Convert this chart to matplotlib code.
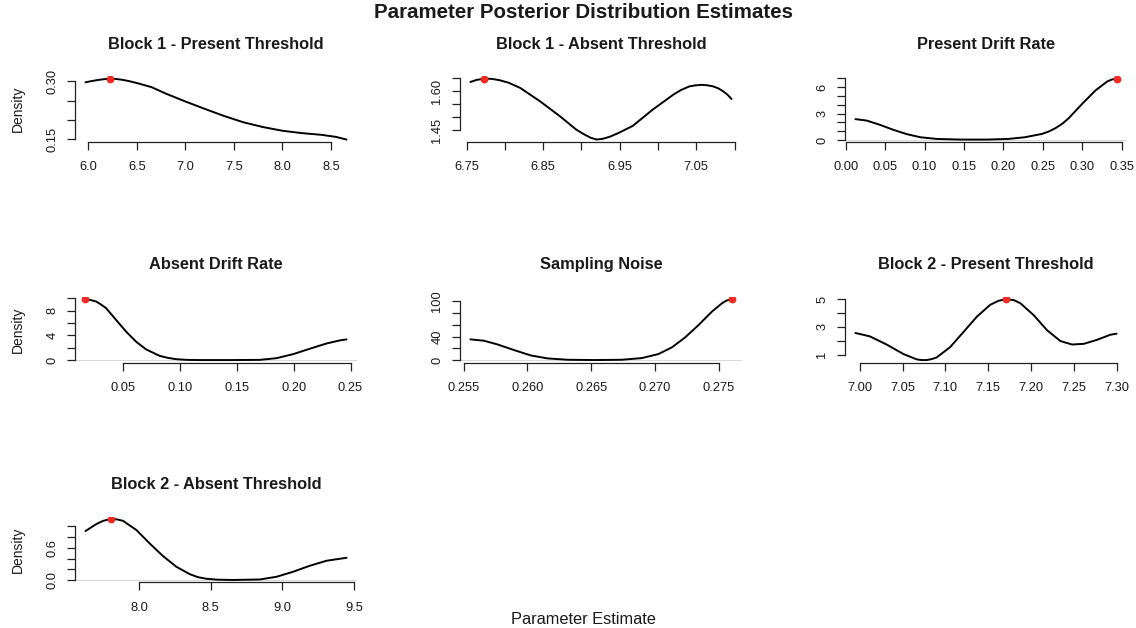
import matplotlib
matplotlib.use("Agg")
import matplotlib.pyplot as plt
import numpy as np

plt.rcParams["font.family"] = ["Liberation Sans", "DejaVu Sans"]

# ---- posterior density curves (parameter value, density) ----
b1_present_x = [5.97, 6.03, 6.10, 6.16, 6.22, 6.28, 6.35, 6.42, 6.50, 6.65, 6.80,
                7.00, 7.20, 7.40, 7.60, 7.80, 8.00, 8.20, 8.40, 8.55, 8.66]
b1_present_y = [0.2974, 0.3005, 0.3035, 0.3055, 0.3070, 0.3063, 0.3040, 0.3005,
                0.2956, 0.2850, 0.2680, 0.2477, 0.2285, 0.2100, 0.1936, 0.1814,
                0.1718, 0.1657, 0.1613, 0.1560, 0.1490]

b1_absent_x = [6.755, 6.763, 6.773, 6.783, 6.793, 6.805, 6.820, 6.846, 6.872, 6.893,
               6.903, 6.912, 6.920, 6.928, 6.937, 6.948, 6.967, 6.993, 7.020, 7.030,
               7.041, 7.049, 7.057, 7.065, 7.072, 7.079, 7.085, 7.091, 7.096]
b1_absent_y = [1.636, 1.644, 1.649, 1.648, 1.643, 1.633, 1.613, 1.561, 1.503, 1.452,
               1.434, 1.420, 1.413, 1.416, 1.424, 1.438, 1.466, 1.529, 1.587, 1.605,
               1.619, 1.623, 1.625, 1.623, 1.619, 1.611, 1.600, 1.586, 1.570]

present_drift_x = [0.0124, 0.0265, 0.0436, 0.0607, 0.0778, 0.0949, 0.1160, 0.1460,
                   0.1800, 0.2060, 0.2270, 0.2490, 0.2580, 0.2660, 0.2750, 0.2830,
                   0.3000, 0.3170, 0.3320, 0.3380, 0.3436]
present_drift_y = [2.36, 2.20, 1.71, 1.14, 0.65, 0.30, 0.11, 0.04, 0.04, 0.11, 0.30,
                   0.68, 0.97, 1.33, 1.85, 2.47, 4.10, 5.63, 6.65, 6.87, 6.96]

absent_drift_x = [0.0165, 0.0210, 0.0259, 0.0300, 0.0347, 0.0435, 0.0524, 0.0612,
                  0.0700, 0.0818, 0.0890, 0.0965, 0.1060, 0.1170, 0.1460, 0.1700,
                  0.1847, 0.1994, 0.2140, 0.2290, 0.2406, 0.2465]
absent_drift_y = [9.84, 9.70, 9.46, 9.00, 8.38, 6.49, 4.59, 2.97, 1.73, 0.70, 0.38,
                  0.16, 0.05, 0.02, 0.02, 0.05, 0.32, 0.97, 1.84, 2.70, 3.19, 3.35]

noise_x = [0.25553, 0.25658, 0.25763, 0.25895, 0.26026, 0.26158, 0.26316, 0.26526,
           0.26737, 0.26895, 0.27026, 0.27132, 0.27237, 0.27342, 0.27447, 0.27526,
           0.27560, 0.27600]
noise_y = [35.4, 33.1, 26.9, 17.1, 8.0, 2.9, 0.6, 0.1, 0.6, 3.4, 10.3, 21.7, 38.9,
           60.0, 82.9, 97.1, 101.5, 104.0]

b2_present_x = [6.9949, 7.0117, 7.0313, 7.0508, 7.0664, 7.0720, 7.0781, 7.0840,
                7.0898, 7.1055, 7.1211, 7.1367, 7.1523, 7.1620, 7.1711, 7.1800,
                7.1875, 7.2031, 7.2188, 7.2344, 7.2480, 7.2617, 7.2773, 7.2930,
                7.3000]
b2_present_y = [2.56, 2.32, 1.73, 1.05, 0.66, 0.61, 0.61, 0.68, 0.80, 1.54, 2.63,
                3.73, 4.59, 4.88, 5.00, 4.93, 4.71, 3.85, 2.76, 1.98, 1.73, 1.78,
                2.07, 2.44, 2.51]

b2_absent_x = [7.626, 7.702, 7.750, 7.802, 7.845, 7.888, 7.981, 8.074, 8.167, 8.260,
               8.353, 8.410, 8.470, 8.550, 8.656, 8.842, 8.958, 9.074, 9.190, 9.307,
               9.447]
b2_absent_y = [0.910, 1.040, 1.100, 1.133, 1.127, 1.100, 0.930, 0.680, 0.446, 0.248,
               0.111, 0.055, 0.025, 0.008, 0.003, 0.012, 0.062, 0.155, 0.266, 0.359,
               0.415]

# ---- axis ticks and their labels ----
b1_present_xticks = [6.0, 6.5, 7.0, 7.5, 8.0, 8.5]
b1_present_xlabels = ["6.0", "6.5", "7.0", "7.5", "8.0", "8.5"]
b1_present_yticks = [0.15, 0.20, 0.25, 0.30]
b1_present_ylabels = ["0.15", "", "", "0.30"]

b1_absent_xticks = [6.75, 6.80, 6.85, 6.90, 6.95, 7.00, 7.05, 7.10]
b1_absent_xlabels = ["6.75", "", "6.85", "", "6.95", "", "7.05", ""]
b1_absent_yticks = [1.45, 1.50, 1.55, 1.60, 1.65]
b1_absent_ylabels = ["1.45", "", "", "1.60", ""]

present_drift_xticks = [0.00, 0.05, 0.10, 0.15, 0.20, 0.25, 0.30, 0.35]
present_drift_xlabels = ["0.00", "0.05", "0.10", "0.15", "0.20", "0.25", "0.30", "0.35"]
present_drift_yticks = [0, 1, 2, 3, 4, 5, 6, 7]
present_drift_ylabels = ["0", "", "", "3", "", "", "6", ""]

absent_drift_xticks = [0.05, 0.10, 0.15, 0.20, 0.25]
absent_drift_xlabels = ["0.05", "0.10", "0.15", "0.20", "0.25"]
absent_drift_yticks = [0, 2, 4, 6, 8, 10]
absent_drift_ylabels = ["0", "", "4", "", "8", ""]

noise_xticks = [0.255, 0.260, 0.265, 0.270, 0.275]
noise_xlabels = ["0.255", "0.260", "0.265", "0.270", "0.275"]
noise_yticks = [0, 20, 40, 60, 80, 100]
noise_ylabels = ["0", "", "40", "", "", "100"]

b2_present_xticks = [7.00, 7.05, 7.10, 7.15, 7.20, 7.25, 7.30]
b2_present_xlabels = ["7.00", "7.05", "7.10", "7.15", "7.20", "7.25", "7.30"]
b2_present_yticks = [1, 2, 3, 4, 5]
b2_present_ylabels = ["1", "", "3", "", "5"]

b2_absent_xticks = [8.0, 8.5, 9.0, 9.5]
b2_absent_xlabels = ["8.0", "8.5", "9.0", "9.5"]
b2_absent_yticks = [0.0, 0.2, 0.4, 0.6, 0.8, 1.0]
b2_absent_ylabels = ["0.0", "", "", "0.6", "", ""]

titles = ["Block 1 - Present Threshold", "Block 1 - Absent Threshold",
          "Present Drift Rate", "Absent Drift Rate", "Sampling Noise",
          "Block 2 - Present Threshold", "Block 2 - Absent Threshold"]

panels = [
    (b1_present_x, b1_present_y, b1_present_xticks, b1_present_xlabels,
     b1_present_yticks, b1_present_ylabels),
    (b1_absent_x, b1_absent_y, b1_absent_xticks, b1_absent_xlabels,
     b1_absent_yticks, b1_absent_ylabels),
    (present_drift_x, present_drift_y, present_drift_xticks, present_drift_xlabels,
     present_drift_yticks, present_drift_ylabels),
    (absent_drift_x, absent_drift_y, absent_drift_xticks, absent_drift_xlabels,
     absent_drift_yticks, absent_drift_ylabels),
    (noise_x, noise_y, noise_xticks, noise_xlabels, noise_yticks, noise_ylabels),
    (b2_present_x, b2_present_y, b2_present_xticks, b2_present_xlabels,
     b2_present_yticks, b2_present_ylabels),
    (b2_absent_x, b2_absent_y, b2_absent_xticks, b2_absent_xlabels,
     b2_absent_yticks, b2_absent_ylabels),
]

W, H = 1136, 628
fig = plt.figure(figsize=(W / 100, H / 100), dpi=100)

col_left = [75, 460, 845]
row_bottom = [142, 362.5, 582.4]
panel_w, panel_h = 282, 65.8
text_col = "#1a1a1a"


def padded(v, frac=0.04):
    lo, hi = min(v), max(v)
    d = (hi - lo) * frac
    return lo - d, hi + d


for i, (title, (xs, ys, xt, xl, yt, yl)) in enumerate(zip(titles, panels)):
    r, c = divmod(i, 3)
    left = col_left[c] / W
    bottom = 1 - row_bottom[r] / H
    ax = fig.add_axes([left, bottom, panel_w / W, panel_h / H])

    xlim = padded(xs)
    ylim = padded(ys)
    if ylim[0] <= 0 <= ylim[1]:
        ax.axhline(0, color="#c8c8c8", lw=0.5, zorder=1)
    ax.plot(xs, ys, color="black", lw=1.4, zorder=2,
            solid_capstyle="round", solid_joinstyle="round")
    k = int(np.argmax(ys))
    ax.plot([xs[k]], [ys[k]], "o", color="#ef2a22", ms=4.6, mec="#ef2a22", zorder=3)

    ax.set_xticks(xt)
    ax.set_xticklabels(xl)
    ax.set_yticks(yt)
    ax.set_yticklabels(yl)
    ax.set_xlim(xlim)
    ax.set_ylim(ylim)

    for s in ("top", "right"):
        ax.spines[s].set_visible(False)
    ax.spines["left"].set_bounds(yt[0], yt[-1])
    ax.spines["bottom"].set_bounds(xt[0], xt[-1])
    for s in ("left", "bottom"):
        ax.spines[s].set_linewidth(0.9)
        ax.spines[s].set_color("#222222")

    ax.tick_params(axis="both", direction="out", length=5.5, width=0.9,
                   color="#222222", labelsize=9.3, labelcolor=text_col)
    ax.tick_params(axis="x", pad=8.5)
    ax.tick_params(axis="y", pad=6.5, labelrotation=90)
    for lab in ax.get_yticklabels():
        lab.set_va("center")

    ax.set_title(title, fontsize=11.8, fontweight="bold", pad=19.6, color=text_col)

    if c == 0:
        fig.text(17.5 / W, bottom + panel_h / H / 2, "Density", rotation=90,
                 ha="center", va="center", fontsize=10, color=text_col)

fig.text(583.5 / W, 1 - 18 / H, "Parameter Posterior Distribution Estimates",
         ha="center", va="baseline", fontsize=14.8, fontweight="bold", color=text_col)
fig.text(583 / W, 1 - 624.3 / H, "Parameter Estimate",
         ha="center", va="baseline", fontsize=11.8, color=text_col)

fig.savefig("out.png", dpi=100, facecolor="white")
